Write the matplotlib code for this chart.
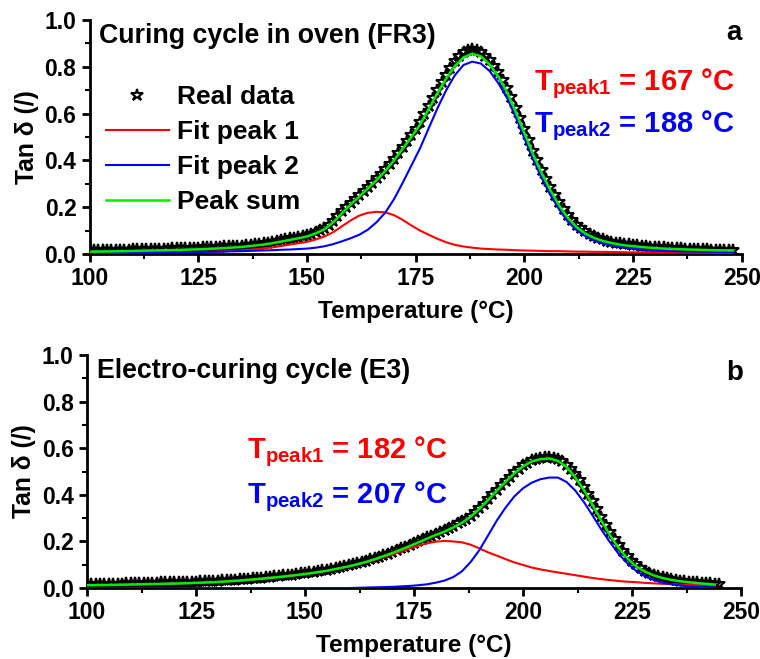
import numpy as np
import matplotlib
matplotlib.use("Agg")
import matplotlib.pyplot as plt
from matplotlib.ticker import MultipleLocator

plt.rcParams["font.family"] = ["Liberation Sans", "DejaVu Sans"]
plt.rcParams["font.weight"] = "bold"
plt.rcParams["mathtext.fontset"] = "custom"
plt.rcParams["mathtext.rm"] = "Liberation Sans:bold"
plt.rcParams["mathtext.bf"] = "Liberation Sans:bold"
plt.rcParams["mathtext.it"] = "Liberation Sans:bold"

# ---------------- panel a : curing cycle in oven (FR3) ----------------
t_real_a = np.arange(100, 249, 1)
real_a = [0.017, 0.017, 0.017, 0.018, 0.018, 0.018, 0.018, 0.019, 0.019, 0.019,
          0.020, 0.020, 0.021, 0.021, 0.022, 0.022, 0.022, 0.023, 0.023, 0.024,
          0.024, 0.025, 0.025, 0.026, 0.026, 0.027, 0.028, 0.028, 0.029, 0.030,
          0.031, 0.032, 0.033, 0.034, 0.035, 0.036, 0.038, 0.040, 0.042, 0.043,
          # 140 - 225
          0.045, 0.049, 0.052, 0.056, 0.060, 0.064, 0.067, 0.070, 0.073, 0.077,
          0.081, 0.087, 0.094, 0.103, 0.113, 0.126, 0.143, 0.162, 0.182, 0.201,
          0.219, 0.235, 0.251, 0.268, 0.286, 0.304, 0.323, 0.343, 0.363, 0.385,
          0.408, 0.433, 0.458, 0.483, 0.508, 0.535, 0.563, 0.597, 0.632, 0.667,
          0.702, 0.735, 0.767, 0.797, 0.823, 0.846, 0.862, 0.872, 0.876, 0.873,
          0.863, 0.848, 0.828, 0.804, 0.777, 0.745, 0.710, 0.670, 0.626, 0.580,
          0.534, 0.487, 0.442, 0.400, 0.360, 0.321, 0.286, 0.252, 0.221, 0.193,
          0.167, 0.145, 0.126, 0.110, 0.097, 0.086, 0.077, 0.069, 0.063, 0.057,
          0.053, 0.049, 0.046, 0.043, 0.041, 0.039,
          # 226 - 248
          0.037, 0.035, 0.033, 0.031, 0.030, 0.029, 0.028, 0.027, 0.026, 0.025,
          0.024, 0.023, 0.022, 0.022, 0.021, 0.020, 0.020, 0.019, 0.019, 0.018,
          0.018, 0.017, 0.017]

t_fit_a = [100, 105, 110, 115, 120, 125, 130, 135,
           140, 142, 144, 146, 148, 150, 152, 154, 156, 158, 160, 162, 164, 166, 168,
           170, 172, 174, 176, 178, 180, 182, 184, 186, 188, 190, 192, 194, 196, 198,
           200, 202, 204, 206, 208, 210, 212, 214, 216, 218, 220, 222, 224,
           228, 232, 236, 240, 244, 248]
sum_a = [0.010, 0.011, 0.013, 0.015, 0.017, 0.020, 0.024, 0.030,
         0.040, 0.046, 0.053, 0.060, 0.067, 0.075, 0.088, 0.106, 0.135, 0.173, 0.211,
         0.245, 0.280, 0.316, 0.355,
         0.400, 0.450, 0.500, 0.553, 0.620, 0.688, 0.750, 0.803, 0.840, 0.856, 0.845,
         0.810, 0.758, 0.692, 0.608,
         0.517, 0.425, 0.345, 0.272, 0.207, 0.154, 0.115, 0.088, 0.069, 0.056, 0.047,
         0.040, 0.035,
         0.028, 0.023, 0.020, 0.018, 0.016, 0.015]
peak1_a = [0.005, 0.005, 0.006, 0.007, 0.008, 0.009, 0.011, 0.015,
           0.024, 0.028, 0.034, 0.040, 0.046, 0.052, 0.062, 0.075, 0.093, 0.118, 0.143,
           0.164, 0.176, 0.180, 0.178,
           0.166, 0.146, 0.122, 0.100, 0.082, 0.065, 0.050, 0.039, 0.032, 0.027, 0.023,
           0.021, 0.019, 0.018, 0.016,
           0.015, 0.014, 0.013, 0.012, 0.012, 0.011, 0.010, 0.010, 0.009, 0.009, 0.008,
           0.008, 0.007,
           0.007, 0.006, 0.006, 0.005, 0.005, 0.004]
peak2_a = [0.005, 0.006, 0.006, 0.007, 0.008, 0.009, 0.010, 0.012,
           0.015, 0.016, 0.018, 0.019, 0.021, 0.023, 0.027, 0.033, 0.042, 0.054, 0.067,
           0.082, 0.104, 0.136, 0.177,
           0.234, 0.304, 0.378, 0.452, 0.538, 0.623, 0.700, 0.764, 0.808, 0.822, 0.814,
           0.782, 0.730, 0.668, 0.585,
           0.495, 0.405, 0.325, 0.252, 0.190, 0.138, 0.102, 0.076, 0.057, 0.045, 0.037,
           0.030, 0.025,
           0.018, 0.014, 0.011, 0.010, 0.009, 0.008]

# ---------------- panel b : electro-curing cycle (E3) ----------------
t_real_b = np.arange(100, 246, 1)
real_b = [0.016, 0.016, 0.017, 0.017, 0.017, 0.018, 0.018, 0.019, 0.019, 0.020,
          0.020, 0.021, 0.021, 0.022, 0.022, 0.023, 0.023, 0.024, 0.024, 0.025,
          0.025, 0.026, 0.026, 0.027, 0.027, 0.028, 0.029, 0.029, 0.030, 0.031,
          0.032, 0.033, 0.034, 0.035, 0.036, 0.037, 0.039, 0.040, 0.042, 0.043,
          # 140 - 230
          0.045, 0.047, 0.049, 0.050, 0.052, 0.054, 0.056, 0.058, 0.061, 0.063,
          0.065, 0.068, 0.070, 0.073, 0.076, 0.079, 0.083, 0.086, 0.090, 0.094,
          0.098, 0.102, 0.107, 0.112, 0.117, 0.123, 0.129, 0.135, 0.142, 0.148,
          0.155, 0.162, 0.170, 0.177, 0.185, 0.193, 0.201, 0.209, 0.217, 0.225,
          0.233, 0.241, 0.249, 0.258, 0.267, 0.277, 0.287, 0.298, 0.311, 0.326,
          0.343, 0.362, 0.382, 0.402, 0.422, 0.441, 0.460, 0.478, 0.496, 0.512,
          0.526, 0.538, 0.548, 0.555, 0.559, 0.561, 0.561, 0.559, 0.553, 0.543,
          0.529, 0.510, 0.488, 0.462, 0.434, 0.404, 0.372, 0.339, 0.305, 0.272,
          0.241, 0.212, 0.185, 0.160, 0.138, 0.118, 0.101, 0.087, 0.075, 0.065,
          0.057,
          # 231 - 245
          0.051, 0.046, 0.041, 0.037, 0.034, 0.031, 0.029, 0.027, 0.025, 0.024,
          0.023, 0.021, 0.020, 0.019, 0.018]

t_fit_b = [100, 105, 110, 115, 120, 125, 130, 135, 140, 145, 150, 155, 160,
           162, 164, 166, 168, 170, 172, 174, 176, 178, 180, 182, 184, 186, 188,
           190, 192, 194, 196, 198, 200, 202, 204, 206, 208, 210, 212, 214, 216,
           218, 220, 222, 224, 226, 228, 230, 232, 234, 236, 238, 240, 242, 244]
sum_b = [0.012, 0.013, 0.015, 0.017, 0.019, 0.022, 0.026, 0.032, 0.040, 0.049,
         0.060, 0.074, 0.093,
         0.102, 0.112, 0.124, 0.137, 0.150, 0.165, 0.180, 0.196, 0.212, 0.228,
         0.242, 0.260, 0.280, 0.306,
         0.340, 0.378, 0.418, 0.456, 0.492, 0.522, 0.543, 0.553, 0.556, 0.546,
         0.520, 0.474, 0.420, 0.355,
         0.288, 0.225, 0.170, 0.126, 0.092, 0.070, 0.054, 0.043, 0.035, 0.029,
         0.025, 0.021, 0.018, 0.015]
peak1_b = [0.012, 0.013, 0.015, 0.017, 0.019, 0.022, 0.026, 0.032, 0.040, 0.049,
           0.060, 0.074, 0.092,
           0.101, 0.110, 0.121, 0.133, 0.144, 0.157, 0.170, 0.182, 0.192, 0.199,
           0.202, 0.200, 0.196, 0.186,
           0.170, 0.153, 0.139, 0.124, 0.110, 0.099, 0.088, 0.080, 0.073, 0.067,
           0.061, 0.055, 0.049, 0.043,
           0.038, 0.034, 0.030, 0.027, 0.025, 0.022, 0.020, 0.018, 0.017, 0.015,
           0.014, 0.013, 0.012, 0.011]
peak2_b = [0.000, 0.000, 0.000, 0.000, 0.000, 0.000, 0.000, 0.000, 0.000, 0.000,
           0.000, 0.000, 0.000,
           0.001, 0.002, 0.003, 0.004, 0.005, 0.007, 0.009, 0.012, 0.016, 0.023,
           0.032, 0.047, 0.072, 0.112,
           0.163, 0.226, 0.290, 0.345, 0.393, 0.428, 0.452, 0.467, 0.474, 0.474,
           0.455, 0.418, 0.368, 0.310,
           0.250, 0.195, 0.145, 0.105, 0.073, 0.050, 0.034, 0.023, 0.016, 0.011,
           0.007, 0.005, 0.003, 0.002]

panels = [
    dict(t_real=t_real_a, real=real_a, t_fit=t_fit_a, s=sum_a, p1=peak1_a, p2=peak2_a,
         title="Curing cycle in oven (FR3)", letter="a", letter_xy=(1.0, 0.944),
         tp1=167, tp2=188, ann_x=0.681, ann_y=(0.727, 0.547)),
    dict(t_real=t_real_b, real=real_b, t_fit=t_fit_b, s=sum_b, p1=peak1_b, p2=peak2_b,
         title="Electro-curing cycle (E3)", letter="b", letter_xy=(1.003, 0.923),
         tp1=182, tp2=207, ann_x=0.245, ann_y=(0.585, 0.39)),
]

fig = plt.figure(figsize=(7.6, 6.59), dpi=100)
ax_a = fig.add_axes([0.118, 0.6146, 0.858, 0.355])
ax_b = fig.add_axes([0.1145, 0.1077, 0.8605, 0.3536])

for ax, p in zip([ax_a, ax_b], panels):
    ax.plot(p["t_real"], p["real"], linestyle="none", marker="*", markersize=9,
            markerfacecolor="none", markeredgecolor="black", markeredgewidth=1.5,
            label="Real data", zorder=2)
    ax.plot(p["t_fit"], p["p1"], color="#ff0000", lw=1.5, label="Fit peak 1", zorder=3)
    ax.plot(p["t_fit"], p["p2"], color="#0000ff", lw=1.5, label="Fit peak 2", zorder=3)
    ax.plot(p["t_fit"], p["s"], color="#00ee00", lw=1.8, label="Peak sum", zorder=4)

    ax.set_xlim(100, 250)
    ax.set_ylim(0, 1.0)
    ax.xaxis.set_major_locator(MultipleLocator(25))
    ax.xaxis.set_minor_locator(MultipleLocator(12.5))
    ax.yaxis.set_major_locator(MultipleLocator(0.2))
    ax.yaxis.set_minor_locator(MultipleLocator(0.1))
    ax.yaxis.set_major_formatter(plt.FormatStrFormatter("%.1f"))
    for side in ["top", "right"]:
        ax.spines[side].set_visible(False)
    for side in ["left", "bottom"]:
        ax.spines[side].set_linewidth(2)
    ax.tick_params(which="major", direction="out", length=6, width=2, labelsize=16.5)
    ax.tick_params(which="minor", direction="out", length=3.5, width=1.5)
    for lab in ax.get_xticklabels() + ax.get_yticklabels():
        lab.set_fontweight("bold")

    ax.set_xlabel("Temperature (°C)", fontsize=17.5, fontweight="bold", labelpad=7)
    ax.set_ylabel("Tan δ (/)", fontsize=17.7, fontweight="bold", labelpad=4)

    ax.text(0.015, 0.93, p["title"], transform=ax.transAxes, fontsize=19.3,
            fontweight="bold", va="center", ha="left")
    ax.text(p["letter_xy"][0], p["letter_xy"][1], p["letter"], transform=ax.transAxes,
            fontsize=20, fontweight="bold", va="center", ha="right")
    ax.text(p["ann_x"], p["ann_y"][0], r"$\mathbf{T_{peak1}}$ = %d °C" % p["tp1"],
            transform=ax.transAxes, fontsize=21, fontweight="bold", color="#ff0000",
            va="center", ha="left")
    ax.text(p["ann_x"], p["ann_y"][1], r"$\mathbf{T_{peak2}}$ = %d °C" % p["tp2"],
            transform=ax.transAxes, fontsize=21, fontweight="bold", color="#0000ff",
            va="center", ha="left")

ax_a.legend(loc="upper left", bbox_to_anchor=(0.0, 0.79), frameon=False,
            handlelength=2.4, handletextpad=0.3, labelspacing=0.42,
            prop={"size": 19, "weight": "bold"}, borderaxespad=0.2)

fig.savefig("out.png", dpi=100)
